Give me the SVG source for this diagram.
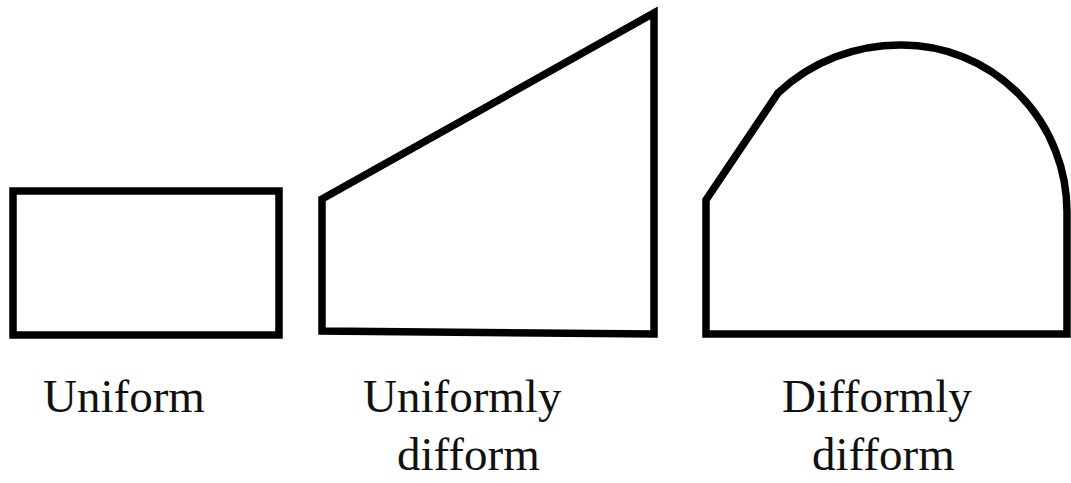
<svg xmlns="http://www.w3.org/2000/svg" width="1071" height="483" viewBox="0 0 1071 483">
<style>
.shape{fill:#fff;stroke:#000;stroke-width:7.5;stroke-linejoin:miter}
.lbl{font-family:"Liberation Serif","Times New Roman",serif;font-size:47px;fill:#111}
</style>
<rect width="1071" height="483" fill="#fff"/>
<g id="uniform">
<rect class="shape" x="13" y="191" width="266" height="144"/>
<text class="lbl" x="43" y="412">Uniform</text>
</g>
<g id="uniformly-difform">
<path class="shape" d="M322,199 L654,13 L654,334 L322,331 Z"/>
<text class="lbl" x="363" y="412">Uniformly</text>
<text class="lbl" x="397" y="470">difform</text>
</g>
<g id="difformly-difform">
<path class="shape" d="M706,334 L706,200 L778,93 A175,170 0 0 1 902,45 A165,167 0 0 1 1067,212 L1067,334 Z"/>
<text class="lbl" x="782" y="412">Difformly</text>
<text class="lbl" x="812" y="470">difform</text>
</g>
<g id="connectors"/>
</svg>
